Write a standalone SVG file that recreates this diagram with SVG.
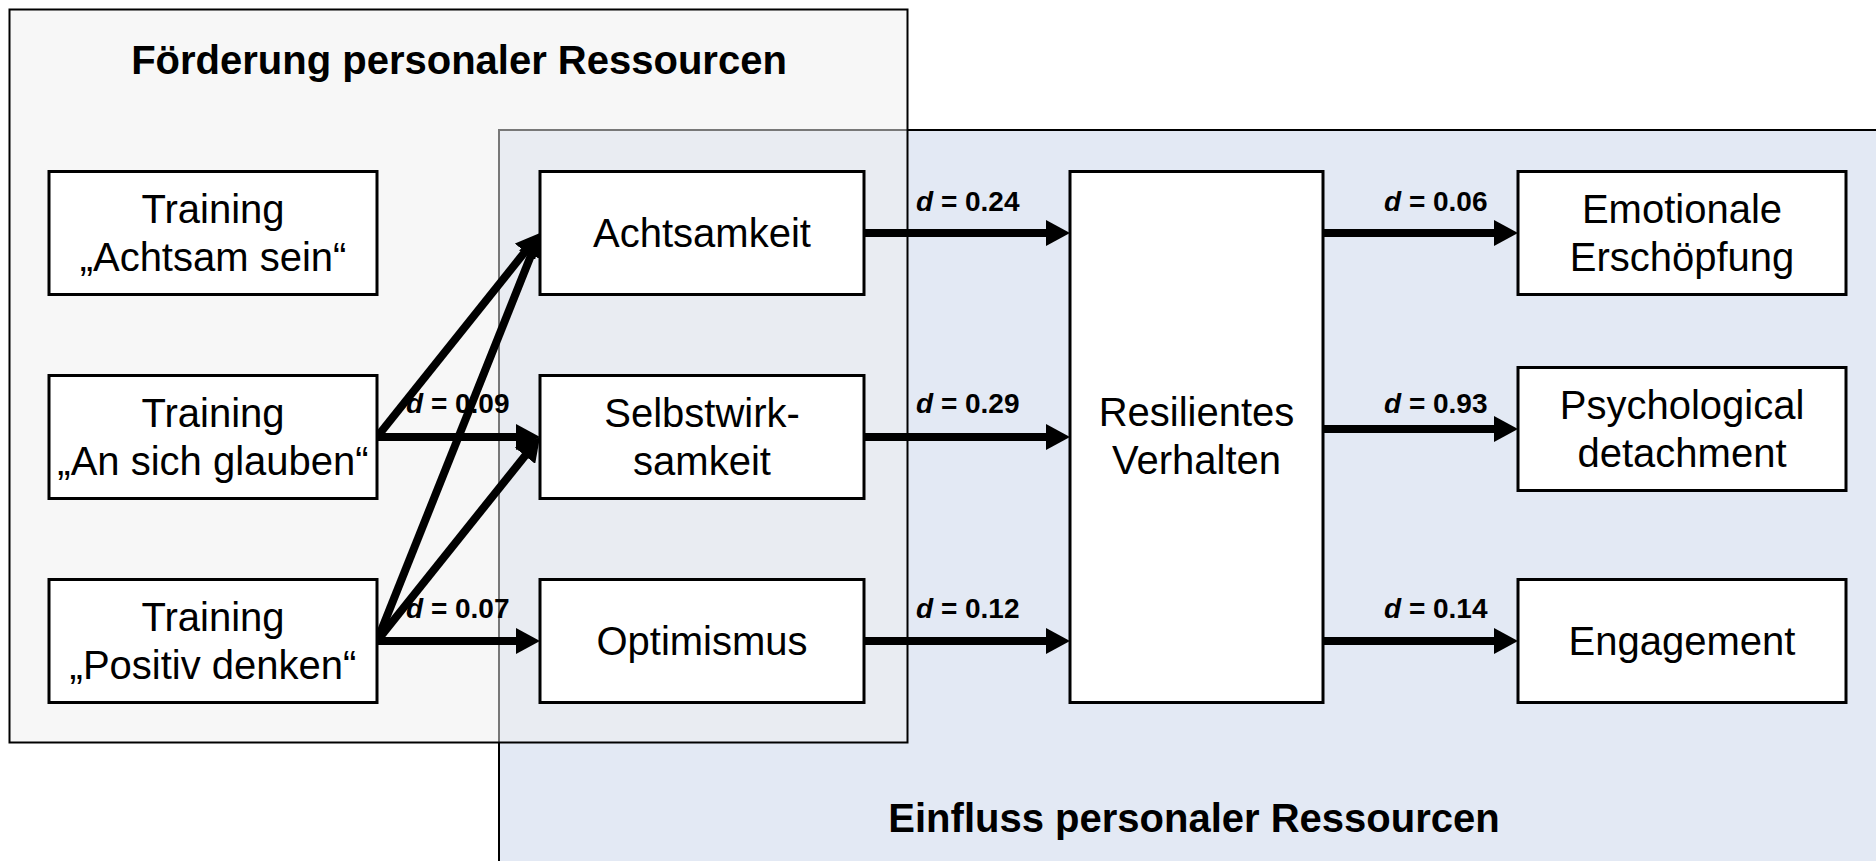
<svg xmlns="http://www.w3.org/2000/svg" width="1876" height="861" viewBox="0 0 1876 861">
  <style>
    .node { fill: #ffffff; stroke: #000000; stroke-width: 3; }
    .lbl { font-family: "Liberation Sans", Arial, sans-serif; font-size: 40px; fill: #000000; text-anchor: middle; }
    .title { font-family: "Liberation Sans", Arial, sans-serif; font-size: 40px; font-weight: bold; fill: #000000; text-anchor: middle; }
    .eff { font-family: "Liberation Sans", Arial, sans-serif; font-size: 28px; font-weight: bold; fill: #000000; }
    .edge { stroke: #000000; stroke-width: 8; fill: none; marker-end: url(#head); }
  </style>
  <defs>
    <marker id="head" markerUnits="userSpaceOnUse" markerWidth="24" markerHeight="26" viewBox="0 -13 24 26" refX="12" refY="0" orient="auto">
      <path d="M0,-13 L24,0 L0,13 z" fill="#000000"/>
    </marker>
  </defs>

  <rect x="0" y="0" width="1876" height="861" fill="#ffffff"/>

  <!-- region: influence of personal resources -->
  <g id="region-einfluss">
    <rect x="499" y="130" width="1420" height="780" fill="#e3e9f4" stroke="#000000" stroke-width="2"/>
    <text class="title" x="1194" y="832">Einfluss personaler Ressourcen</text>
  </g>

  <!-- region: promotion of personal resources (translucent, laid over the other region) -->
  <g id="region-foerderung">
    <rect x="9.5" y="9.5" width="898" height="733" fill="#f0f0f0" fill-opacity="0.5" stroke="#000000" stroke-width="2"/>
    <text class="title" x="459" y="74">Förderung personaler Ressourcen</text>
  </g>

  <!-- connectors -->
  <g id="connectors">
    <path class="edge" d="M377,437 L532.5,242.4"/>
    <path class="edge" d="M377,437 L528,437"/>
    <path class="edge" d="M377,641 L535.5,244.1"/>
    <path class="edge" d="M377,641 L532.5,446.4"/>
    <path class="edge" d="M377,641 L528,641"/>

    <path class="edge" d="M864,233 L1058,233"/>
    <path class="edge" d="M864,437 L1058,437"/>
    <path class="edge" d="M864,641 L1058,641"/>

    <path class="edge" d="M1323,233 L1506,233"/>
    <path class="edge" d="M1323,429 L1506,429"/>
    <path class="edge" d="M1323,641 L1506,641"/>

    <text class="eff" x="406" y="413"><tspan font-style="italic">d</tspan> = 0.09</text>
    <text class="eff" x="406" y="618"><tspan font-style="italic">d</tspan> = 0.07</text>
    <text class="eff" x="916" y="211"><tspan font-style="italic">d</tspan> = 0.24</text>
    <text class="eff" x="916" y="413"><tspan font-style="italic">d</tspan> = 0.29</text>
    <text class="eff" x="916" y="618"><tspan font-style="italic">d</tspan> = 0.12</text>
    <text class="eff" x="1384" y="211"><tspan font-style="italic">d</tspan> = 0.06</text>
    <text class="eff" x="1384" y="413"><tspan font-style="italic">d</tspan> = 0.93</text>
    <text class="eff" x="1384" y="618"><tspan font-style="italic">d</tspan> = 0.14</text>
  </g>

  <!-- trainings -->
  <g id="training-achtsam">
    <rect class="node" x="49" y="171.5" width="328" height="123"/>
    <text class="lbl" x="213" y="223">Training</text>
    <text class="lbl" x="213" y="271">„Achtsam sein“</text>
  </g>
  <g id="training-glauben">
    <rect class="node" x="49" y="375.5" width="328" height="123"/>
    <text class="lbl" x="213" y="427">Training</text>
    <text class="lbl" x="213" y="475">„An sich glauben“</text>
  </g>
  <g id="training-positiv">
    <rect class="node" x="49" y="579.5" width="328" height="123"/>
    <text class="lbl" x="213" y="631">Training</text>
    <text class="lbl" x="213" y="679">„Positiv denken“</text>
  </g>

  <!-- personal resources -->
  <g id="achtsamkeit">
    <rect class="node" x="540" y="171.5" width="324" height="123"/>
    <text class="lbl" x="702" y="247">Achtsamkeit</text>
  </g>
  <g id="selbstwirksamkeit">
    <rect class="node" x="540" y="375.5" width="324" height="123"/>
    <text class="lbl" x="702" y="427">Selbstwirk-</text>
    <text class="lbl" x="702" y="475">samkeit</text>
  </g>
  <g id="optimismus">
    <rect class="node" x="540" y="579.5" width="324" height="123"/>
    <text class="lbl" x="702" y="655">Optimismus</text>
  </g>

  <!-- resilient behaviour -->
  <g id="resilientes-verhalten">
    <rect class="node" x="1070" y="171.5" width="253" height="531"/>
    <text class="lbl" x="1196.5" y="426">Resilientes</text>
    <text class="lbl" x="1196.5" y="474">Verhalten</text>
  </g>

  <!-- outcomes -->
  <g id="emotionale-erschoepfung">
    <rect class="node" x="1518" y="171.5" width="328" height="123"/>
    <text class="lbl" x="1682" y="223">Emotionale</text>
    <text class="lbl" x="1682" y="271">Erschöpfung</text>
  </g>
  <g id="psychological-detachment">
    <rect class="node" x="1518" y="367.5" width="328" height="123"/>
    <text class="lbl" x="1682" y="419">Psychological</text>
    <text class="lbl" x="1682" y="467">detachment</text>
  </g>
  <g id="engagement">
    <rect class="node" x="1518" y="579.5" width="328" height="123"/>
    <text class="lbl" x="1682" y="655">Engagement</text>
  </g>
</svg>
